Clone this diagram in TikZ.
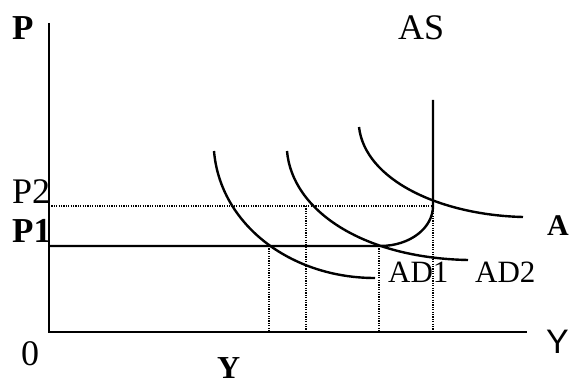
\documentclass[tikz,border=0pt]{standalone}
\usepackage{fontspec}
\setmainfont{Liberation Serif}
\newfontfamily\lsans{Liberation Sans}
\begin{document}
\begin{tikzpicture}[x=1pt,y=-1pt,
  axis/.style={line width=2.3pt},
  curve/.style={line width=2.4pt},
  dotline/.style={line width=1.5pt,dash pattern=on 1.2pt off 1.2pt},
  lbl/.style={inner sep=0pt,anchor=base west},
  big/.style={font=\fontsize{36}{36}\selectfont},
  mid/.style={font=\fontsize{31}{31}\selectfont},
  bigb/.style={font=\fontsize{35}{35}\selectfont\bfseries},
]
\useasboundingbox (0,0) rectangle (570,385);
% axes
\coordinate (O) at (49,332);
\coordinate (Ptop) at (49,23);
\coordinate (Xend) at (527,332);
\draw[axis] (Ptop) -- (O) -- (Xend);
% levels
\coordinate (P1L) at (49,246);
\coordinate (P2L) at (49,206);
\coordinate (E1) at (380,246);
\coordinate (E2) at (433,206);
\coordinate (AStop) at (433,100);
% dotted guides
\draw[dotline] (P2L) -- (E2);
\draw[dotline] (269,246) -- (269,332);
\draw[dotline] (306,206) -- (306,332);
\draw[dotline] (379,246) -- (379,332);
\draw[dotline] (E2) -- (433,332);
% AS curve
\draw[curve] (P1L) -- (E1) .. controls (410,246) and (433,228) .. (E2) -- (AStop);
% AD curves
\draw[curve] (214,151) .. controls (220,224) and (290,278) .. (375,278);
\draw[curve] (287,151) .. controls (292,210) and (362,258) .. (468,260);
\draw[curve] (359,127) .. controls (365,180) and (440,215) .. (523,217);
% labels
\node[lbl,bigb] (Plab) at (12,40) {P};
\node[lbl,big] (ASlab) at (398,40) {AS};
\node[lbl,big] (P2lab) at (12,203) {P2};
\node[lbl,bigb] (P1lab) at (12,242) {P1};
\node[lbl,big] (zero) at (21,365) {0};
\node[lbl,font=\fontsize{32}{32}\selectfont\bfseries] (Ybot) at (217,378) {Y};
\node[lbl,font=\fontsize{34}{34}\selectfont\lsans] (Yright) at (546,353) {Y};
\node[lbl,font=\fontsize{30}{30}\selectfont\bfseries] (Alab) at (547,235) {A};
\node[lbl,mid] (AD1) at (388,282) {AD1};
\node[lbl,mid] (AD2) at (475,282) {AD2};
\end{tikzpicture}
\end{document}
